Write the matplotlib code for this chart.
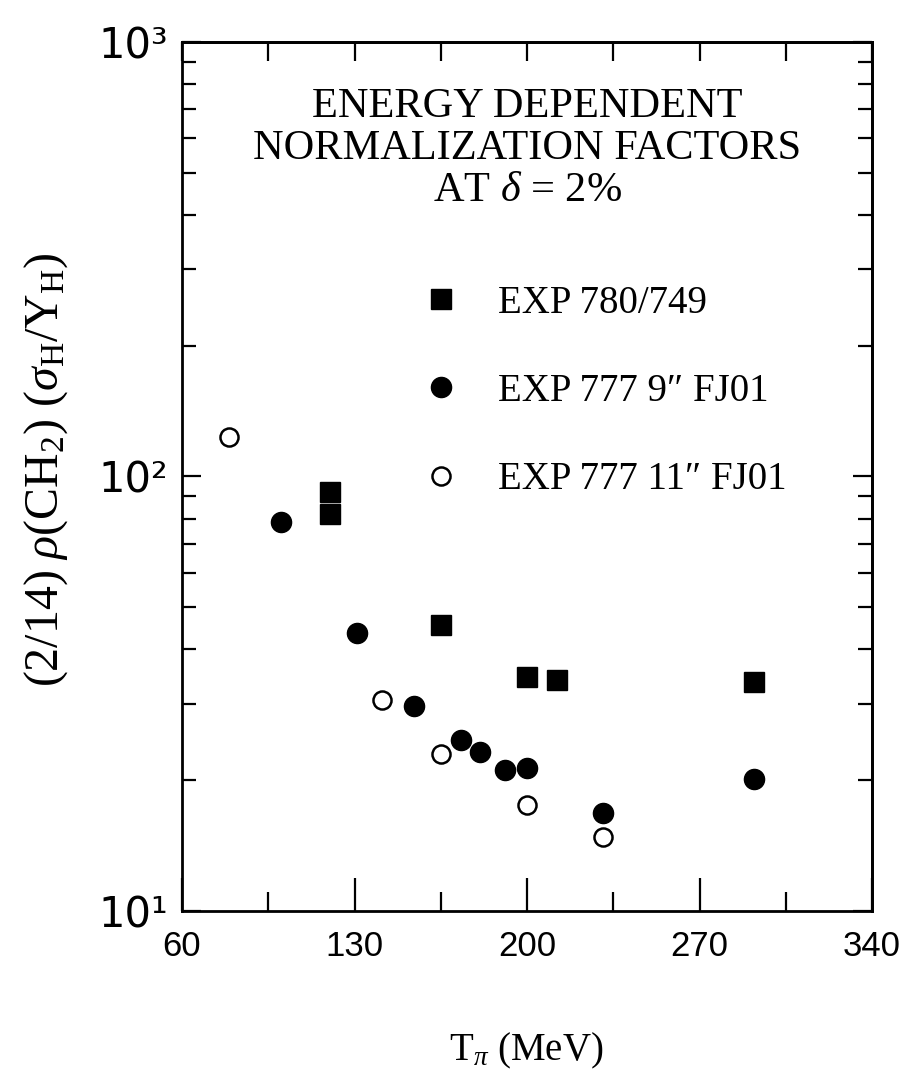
import numpy as np
import matplotlib
matplotlib.use("Agg")
import matplotlib.pyplot as plt
from matplotlib.ticker import FixedLocator, FuncFormatter, NullFormatter

#----------- datos ---------------------------------#
# EXP 780/749 (cuadrados llenos)
t_780 = [120, 120, 165, 200, 212, 292]
n_780 = [92.0, 82.0, 45.5, 34.5, 34.0, 33.7]

# EXP 777 9" FJ01 (circulos llenos)
t_777_9 = [100, 131, 154, 173, 181, 191, 200, 231, 292]
n_777_9 = [78.5, 43.6, 29.6, 24.7, 23.2, 21.1, 21.3, 16.8, 20.1]

# EXP 777 11" FJ01 (circulos vacios)
t_777_11 = [79, 141, 165, 200, 231]
n_777_11 = [123.0, 30.6, 23.0, 17.5, 14.8]

etiquetas = ["EXP 780/749", "EXP 777 9\u2033 FJ01", "EXP 777 11\u2033 FJ01"]
x_ticks = [60, 130, 200, 270, 340]
x_minor = [95, 165, 235, 305]
y_ticks = [10, 100, 1000]
y_minor = [m * d for d in (10, 100) for m in range(2, 10)]
y_tick_labels = {10: "10\u00b9", 100: "10\u00b2", 1000: "10\u00b3"}

#----------- estilo -------------#
plt.rcParams["font.family"] = ["Liberation Serif", "DejaVu Serif"]
plt.rcParams["mathtext.fontset"] = "custom"
plt.rcParams["mathtext.rm"] = "Liberation Serif"
plt.rcParams["mathtext.it"] = "Liberation Serif:italic"

fig = plt.figure(figsize=(9.17, 10.91), dpi=100)
ax = fig.add_axes([0.1985, 0.165, 0.7525, 0.7965])

ax.plot(t_780, n_780, ls="none", marker="s", ms=14, color="black", label=etiquetas[0])
ax.plot(t_777_9, n_777_9, ls="none", marker="o", ms=14.5, color="black", label=etiquetas[1])
ax.plot(t_777_11, n_777_11, ls="none", marker="o", ms=13, mfc="white", mec="black",
        mew=1.8, label=etiquetas[2])

ax.set_yscale("log")
ax.set_xlim(60, 340)
ax.set_ylim(10, 1000)

# eje x
ax.xaxis.set_major_locator(FixedLocator(x_ticks))
ax.xaxis.set_minor_locator(FixedLocator(x_minor))
ax.tick_params(axis="x", which="major", direction="in", length=24, width=1.6, pad=14)
ax.tick_params(axis="x", which="minor", direction="in", length=14, width=1.6)
for lab in ax.get_xticklabels():
    lab.set_family(["Liberation Sans", "DejaVu Sans"])
    lab.set_fontsize(25)

# eje y
ax.yaxis.set_major_locator(FixedLocator(y_ticks))
ax.yaxis.set_minor_locator(FixedLocator(y_minor))
ax.yaxis.set_major_formatter(FuncFormatter(lambda v, p: y_tick_labels.get(int(round(v)), "")))
ax.yaxis.set_minor_formatter(NullFormatter())
ax.tick_params(axis="y", which="major", direction="in", length=14, width=1.6, pad=10,
               labelsize=30)
ax.tick_params(axis="y", which="minor", direction="in", length=10, width=1.6)
for lab in ax.get_yticklabels():
    lab.set_family(["DejaVu Sans"])

# ticks arriba y a la derecha
sec_x = ax.secondary_xaxis("top")
sec_x.xaxis.set_major_locator(FixedLocator(x_ticks))
sec_x.xaxis.set_minor_locator(FixedLocator(x_minor))
sec_x.tick_params(which="both", direction="in", length=14, width=1.6, labeltop=False)
sec_x.spines["top"].set_linewidth(2)

sec_y = ax.secondary_yaxis("right")
sec_y.yaxis.set_major_locator(FixedLocator(y_ticks))
sec_y.yaxis.set_minor_locator(FixedLocator(y_minor))
sec_y.tick_params(which="major", direction="in", length=14, width=1.6, labelright=False)
sec_y.tick_params(which="minor", direction="in", length=10, width=1.6, labelright=False)
sec_y.spines["right"].set_linewidth(2)

for s in ax.spines.values():
    s.set_linewidth(2)

# titulo dentro del grafico
ax.text(0.5, 0.877, "ENERGY DEPENDENT\nNORMALIZATION FACTORS\nAT $\\delta$ = 2%",
        transform=ax.transAxes, ha="center", va="center", fontsize=30.5, linespacing=1.13)

ax.legend(loc="upper left", bbox_to_anchor=(0.3135, 0.743), frameon=False, fontsize=28,
          handletextpad=0.87, labelspacing=1.32, borderpad=0, handlelength=1.2,
          markerscale=1.0)

fig.text(0.574, 0.037, "T$_{\\pi}$ (MeV)", ha="center", va="center", fontsize=28)
fig.text(0.05, 0.57, "(2/14) $\\rho$(CH$_2$) ($\\sigma_{\\rm H}$/Y$_{\\rm H}$)",
         rotation=90, ha="center", va="center", fontsize=34.5)

fig.savefig("out.png", dpi=100)
